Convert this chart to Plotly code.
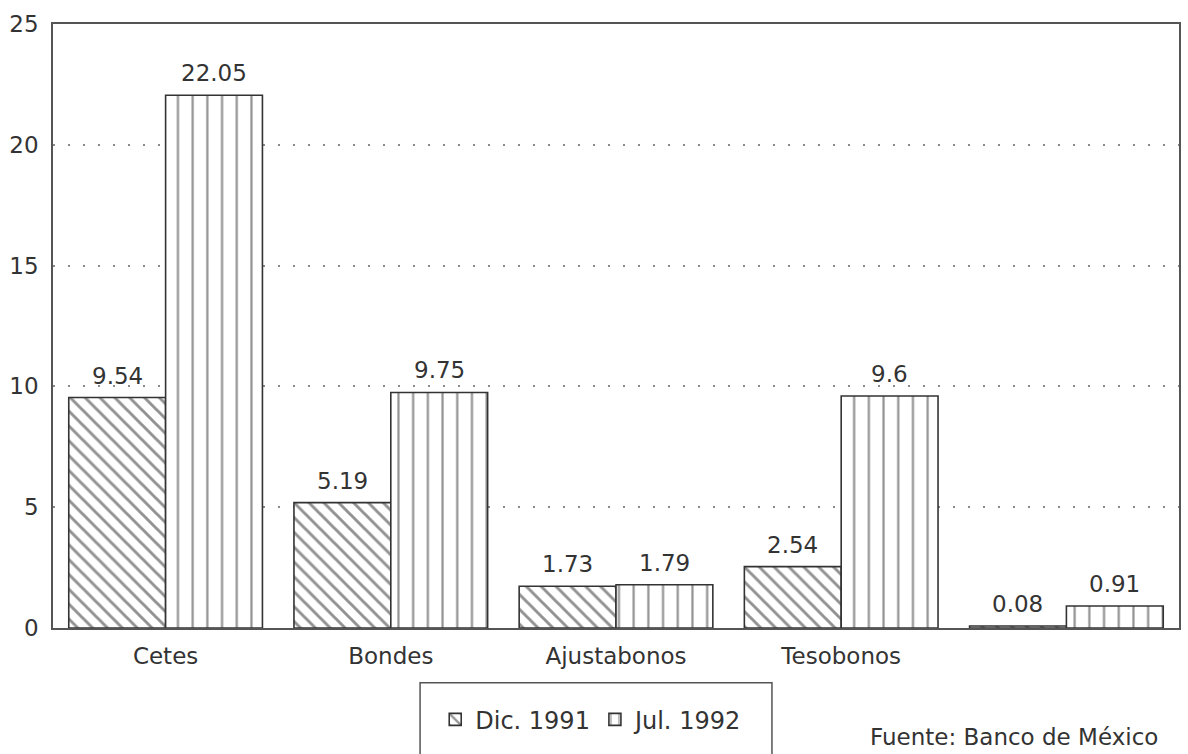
import plotly.graph_objects as go

# Instrument categories (last group has no label on the axis)
categories = ["Cetes", "Bondes", "Ajustabonos", "Tesobonos", ""]
dic_1991 = [9.54, 5.19, 1.73, 2.54, 0.08]
jul_1992 = [22.05, 9.75, 1.79, 9.6, 0.91]
series_names = ["Dic. 1991", "Jul. 1992"]
y_ticks = [0, 5, 10, 15, 20, 25]

INK = "#333333"
HATCH = "#262626"
FONT = "DejaVu Sans, Verdana, sans-serif"
BARGAP = 0.14

x_pos = list(range(len(categories)))

fig = go.Figure()
fig.add_trace(go.Bar(
    x=x_pos, y=dic_1991, name=series_names[0],
    marker=dict(
        color="white",
        line=dict(color=INK, width=1.6),
        pattern=dict(shape="\\", size=10.5, solidity=0.28,
                     fgcolor=HATCH, bgcolor="white", fillmode="overlay"),
    ),
))
fig.add_trace(go.Bar(
    x=x_pos, y=jul_1992, name=series_names[1],
    marker=dict(
        color="white",
        line=dict(color=INK, width=1.6),
        pattern=dict(shape="|", size=14.7, solidity=0.15,
                     fgcolor=HATCH, bgcolor="white", fillmode="overlay"),
    ),
))

# Value labels above each bar
half = (1 - BARGAP) / 4
annotations = []
for i, (a, b) in enumerate(zip(dic_1991, jul_1992)):
    for xv, yv in ((i - half, a), (i + half, b)):
        annotations.append(dict(
            x=xv, y=yv, xref="x", yref="y", text=str(yv),
            showarrow=False, yanchor="bottom", yshift=7,
            font=dict(family=FONT, size=23, color=INK),
        ))

# Source note
annotations.append(dict(
    x=0.7235, y=-0.205, xref="paper", yref="paper",
    text="Fuente: Banco de México", showarrow=False,
    xanchor="left", yanchor="bottom",
    font=dict(family=FONT, size=23, color=INK),
))

fig.update_layout(
    width=1188, height=754,
    margin=dict(l=53, r=7, t=24, b=126),
    paper_bgcolor="white", plot_bgcolor="white",
    barmode="group", bargap=BARGAP, bargroupgap=0,
    font=dict(family=FONT, size=23, color=INK),
    annotations=annotations,
    showlegend=True,
    legend=dict(
        orientation="h", x=0.478, y=-0.152,
        xanchor="center", yanchor="middle",
        font=dict(family=FONT, size=24, color=INK),
        bgcolor="rgba(0,0,0,0)", itemwidth=30,
    ),
    shapes=[dict(
        type="rect", xref="paper", yref="paper",
        x0=0.326, x1=0.6385, y0=-0.0908, y1=-0.23,
        line=dict(color="#555555", width=1.5),
    )],
)

fig.update_xaxes(
    range=[-0.5, len(categories) - 0.5],
    tickvals=x_pos, ticktext=categories,
    showline=True, linecolor="#555555", linewidth=1.5, mirror=True,
    showgrid=False, ticks="", ticklabelstandoff=7,
    tickfont=dict(family=FONT, size=23, color=INK),
)
fig.update_yaxes(
    range=[0, 25], tickvals=y_ticks,
    showline=True, linecolor="#555555", linewidth=1.5, mirror=True,
    showgrid=True, gridcolor="#8a8a8a", gridwidth=1.5, griddash="2px,13px",
    zeroline=False, ticks="", ticklabelstandoff=8,
    tickfont=dict(family=FONT, size=23, color=INK),
)

fig.write_html("out.html")
